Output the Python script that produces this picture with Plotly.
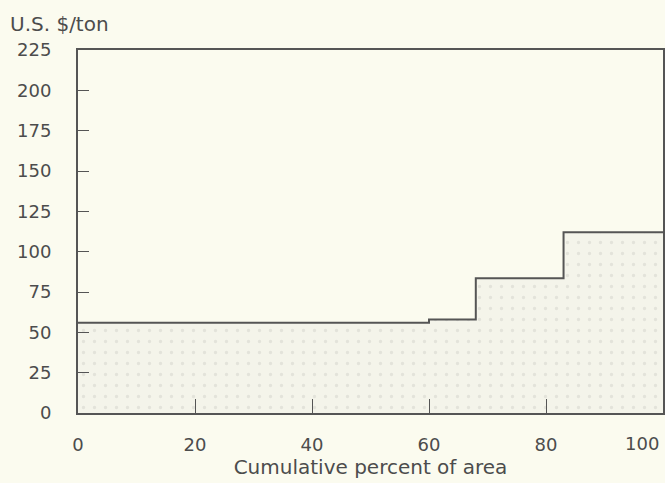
import plotly.graph_objects as go

# Data
step_edges = [0, 60, 68, 83, 100]           # cumulative percent of area
step_costs = [56, 58, 83.5, 112]            # U.S. $/ton for each segment
y_ticks = [0, 25, 50, 75, 100, 125, 150, 175, 200, 225]
x_ticks = [0, 20, 40, 60, 80, 100]

xs = step_edges
ys = step_costs + [step_costs[-1]]

BG = "#fbfbef"
INK = "#4c4c4c"
FONT = dict(family="DejaVu Sans, Verdana, sans-serif", size=18, color=INK)
FONT_BIG = dict(family="DejaVu Sans, Verdana, sans-serif", size=20, color=INK)

# last x tick label is drawn as a right-anchored annotation so it stays inside the page
x_ticktext = [str(v) for v in x_ticks[:-1]] + [""]

fig = go.Figure()
fig.add_trace(go.Scatter(
    x=xs, y=ys, mode="lines", line_shape="hv",
    line=dict(color="#555555", width=2),
    fill="tozeroy",
    fillcolor="#f3f3e9",
    fillpattern=dict(shape=".", fgcolor="#d2d2c9", bgcolor="#f4f4ea",
                     size=11, solidity=0.07),
    hoverinfo="skip", showlegend=False,
))

fig.update_layout(
    width=665, height=483,
    paper_bgcolor=BG, plot_bgcolor=BG,
    margin=dict(l=78, r=2, t=50, b=70),
    font=FONT,
    showlegend=False,
    annotations=[
        dict(text="U.S. $/ton", xref="paper", yref="paper",
             x=-0.12, y=1.0, yshift=12, xanchor="left", yanchor="bottom",
             showarrow=False, font=FONT_BIG),
        dict(text=str(x_ticks[-1]), xref="x", yref="paper",
             x=x_ticks[-1], y=0, xanchor="right", yanchor="top",
             xshift=-2, yshift=-18, showarrow=False, font=FONT),
    ],
)
fig.update_xaxes(
    range=[0, 100], tickvals=x_ticks, ticktext=x_ticktext,
    ticks="inside", ticklen=14,
    tickcolor="#555555", tickwidth=1, tickfont=FONT,
    showline=True, linecolor="#555555", linewidth=2, mirror=True,
    showgrid=False, zeroline=False, automargin=False,
    ticklabelstandoff=14,
    title=dict(text="Cumulative percent of area", standoff=6, font=FONT_BIG),
)
fig.update_yaxes(
    range=[0, 225], tickvals=y_ticks, ticks="inside", ticklen=11,
    tickcolor="#555555", tickwidth=1, tickfont=FONT,
    showline=True, linecolor="#555555", linewidth=2, mirror=True,
    showgrid=False, zeroline=False, automargin=False,
    ticklabelstandoff=21, ticklabeloverflow="allow",
)

fig.write_html("out.html", config={"displayModeBar": False},
               post_script="document.body.style.margin='0';document.body.style.overflow='hidden';")
